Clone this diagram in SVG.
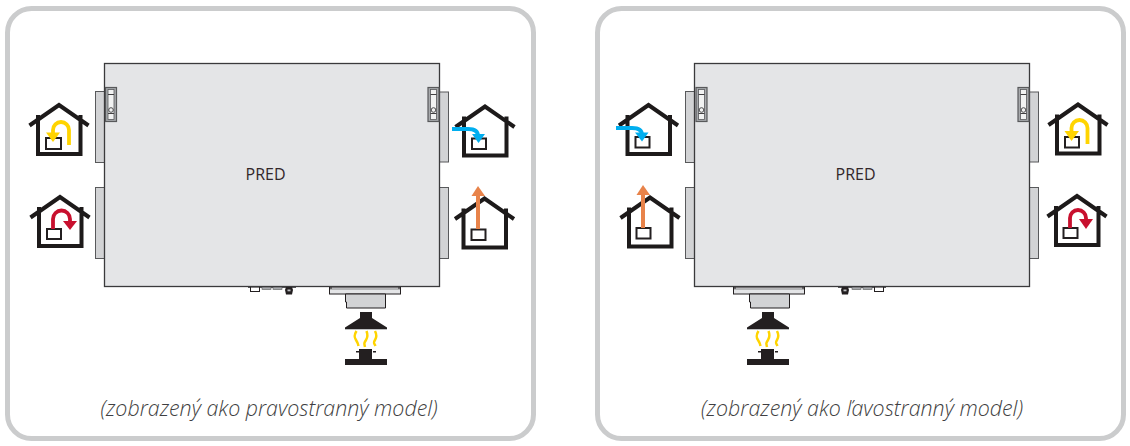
<svg xmlns="http://www.w3.org/2000/svg" xmlns:xlink="http://www.w3.org/1999/xlink" width="1130" height="446" viewBox="0 0 1130 446">
<style>
.panel{fill:#fff;stroke:#cbcccd;stroke-width:5}
.unit{fill:#e4e5e7;stroke:#3a3a3c;stroke-width:1.3}
.stub{fill:#d2d3d5;stroke:#58595b;stroke-width:1}
.hs{fill:none;stroke:#1d1a1a;stroke-width:4}
.bx{fill:#fff;stroke:#231f20;stroke-width:2}
.lab{font-family:"Open Sans","Liberation Sans",sans-serif;font-size:16px;fill:#33282a;text-anchor:middle}
.cap{font-family:"Open Sans","Liberation Sans",sans-serif;font-style:italic;font-weight:300;font-size:21.4px;fill:#3f3f42;text-anchor:middle}
.y{fill:none;stroke:#ffd400;stroke-width:3.8}
.yf{fill:#ffd400}
.r{fill:none;stroke:#c8102e;stroke-width:3.8}
.rf{fill:#c8102e}
.b{fill:none;stroke:#00aeef;stroke-width:3.8}
.bf{fill:#00aeef}
.o{fill:none;stroke:#e8834a;stroke-width:4}
.of{fill:#e8834a}
.fl{fill:none;stroke:#ffd400;stroke-width:2.5}
.dk{fill:#231f20}
.pl{fill:#d2d3d5;stroke:#231f20;stroke-width:1}
</style>
<defs>
<g id="house"><path class="hs" d="M-29.500 22.500L0 2L29.500 22.500M-21 12V51H21.500V12"/></g>
<g id="latch"><rect x="0" y="0" width="11" height="34" fill="#a7a9ac" stroke="#58595b" stroke-width="1.200"/><rect x="2.500" y="2" width="6" height="30" fill="#f1f2f2" stroke="#58595b" stroke-width=".8"/><path d="M2.500 7H8.500M2.500 26H8.500" stroke="#414042" stroke-width="1"/><circle cx="5.500" cy="22.500" r="2.300" fill="none" stroke="#3a3a3c" stroke-width=".9"/></g>
<g id="burner">
<path class="dk" d="M15 0H27V6L42 15.500V17H0V15.500L15 6Z"/>
<path d="M0 17.500H42" stroke="#bcbec0" stroke-width="1"/>
<path class="fl" d="M11.500 19C9 23 9 25 11 28S13 31 13.500 34M21.500 19C23 23 23 25 21 28S19 31 20 35M30 19C32 23 32 25 30 28S29 31 30.500 34"/>
<path class="dk" d="M14 37H27V47H42V53H0V47H14ZM11 39H14V40.500H11ZM28 39H31V40.500H28Z"/>
</g>
<g id="plate">
<rect class="pl" x="0" y="0" width="71" height="7" style="fill:#e4e5e7"/>
<path d="M0.500 2H70.500" stroke="#6d6e71" stroke-width=".8"/>
<path d="M1.500 0V2M69.500 0V2" stroke="#231f20"/>
<path class="pl" d="M16 7H56V21H17V15H16Z"/>
</g>
<g id="conn">
<path d="M-1 .5H47" stroke="#58595b" stroke-width="1"/>
<rect x="1.500" y="0" width="9" height="4.500" fill="#fff" stroke="#231f20" stroke-width="1"/>
<rect x="13" y="0" width="9" height="2.500" fill="#a7a9ac" stroke="#58595b" stroke-width=".6"/>
<rect x="24" y="0" width="9" height="2.500" fill="#a7a9ac" stroke="#58595b" stroke-width=".6"/>
<path class="dk" d="M37 0H43L44 3L43 7.500H37L36 3Z"/><rect x="38.500" y="2.500" width="3" height="1.800" fill="#bcbec0"/>
</g>
</defs>

<g id="panel-right-model">
<rect class="panel" x="7.500" y="8.500" width="526" height="430" rx="24"/>
</g>
<g id="panel-left-model">
<rect class="panel" x="597.500" y="8.500" width="526" height="430" rx="24"/>
</g>

<g id="unit-right-model">
<rect class="stub" x="95.500" y="91.500" width="9" height="71"/>
<rect class="stub" x="95.500" y="187.500" width="9" height="71"/>
<rect class="stub" x="439.500" y="92" width="9" height="70"/>
<rect class="stub" x="439.500" y="187.500" width="9" height="71"/>
<use xlink:href="#conn" href="#conn" x="249" y="287"/>
<use xlink:href="#plate" href="#plate" x="329.500" y="287"/>
<rect class="unit" x="104.500" y="63.500" width="335" height="223"/>
<use xlink:href="#latch" href="#latch" x="105.500" y="87.500"/>
<use xlink:href="#latch" href="#latch" x="428" y="87.500"/>
<text class="lab" x="265.500" y="179.500">PRED</text>
</g>
<g id="unit-left-model">
<rect class="stub" x="685.500" y="91.500" width="9" height="71"/>
<rect class="stub" x="685.500" y="187.500" width="9" height="71"/>
<rect class="stub" x="1029.500" y="92" width="9" height="70"/>
<rect class="stub" x="1029.500" y="187.500" width="9" height="71"/>
<use xlink:href="#conn" href="#conn" transform="translate(885 287) scale(-1 1)"/>
<use xlink:href="#plate" href="#plate" x="733.500" y="287"/>
<rect class="unit" x="694.500" y="63.500" width="335" height="223"/>
<use xlink:href="#latch" href="#latch" x="696" y="87.500"/>
<use xlink:href="#latch" href="#latch" x="1018" y="87.500"/>
<text class="lab" x="855.500" y="179.500">PRED</text>
</g>

<g id="burner-right-model"><use xlink:href="#burner" href="#burner" x="345" y="312"/></g>
<g id="burner-left-model"><use xlink:href="#burner" href="#burner" x="747" y="312"/></g>

<g id="house-r1">
<use xlink:href="#house" href="#house" x="59" y="103"/>
<rect class="bx" x="46" y="138" width="15" height="11"/>
<path class="y" d="M69 145V130A8 8 0 0 0 53 130V134"/>
<path class="yf" d="M46 132.500H60L53 142Z"/>
</g>
<g id="house-r2">
<use xlink:href="#house" href="#house" x="60" y="195"/>
<rect class="bx" x="47" y="229" width="14" height="10"/>
<path class="r" d="M53 229V219A8.500 8.500 0 0 1 70 219V222"/>
<path class="rf" d="M63 221H77L70 230Z"/>
</g>
<g id="house-r3">
<use xlink:href="#house" href="#house" x="485" y="104.500"/>
<rect class="bx" x="472" y="138.500" width="14" height="10.500"/>
<path class="b" d="M452 129H468C474 129 478 131 478 136"/>
<path class="bf" d="M472 134H485L478.500 143Z"/>
</g>
<g id="house-r4">
<use xlink:href="#house" href="#house" x="484.500" y="196.500"/>
<rect class="bx" x="471.500" y="229.500" width="14" height="10.500"/>
<path class="o" d="M478 229V195"/>
<path class="of" d="M471.500 196H485L478 186Z"/>
</g>

<g id="house-l1">
<use xlink:href="#house" href="#house" x="648.500" y="103"/>
<rect class="bx" x="635.500" y="137" width="14" height="10.500"/>
<path class="b" d="M616 128H632C638 128 642 130 642 135"/>
<path class="bf" d="M635 132.500H648.500L642 141.500Z"/>
</g>
<g id="house-l2">
<use xlink:href="#house" href="#house" x="650" y="195.500"/>
<rect class="bx" x="636.500" y="228" width="14" height="10.500"/>
<path class="o" d="M643 228V194"/>
<path class="of" d="M636.500 195H650L643 185Z"/>
</g>
<g id="house-l3">
<use xlink:href="#house" href="#house" x="1078" y="102.500"/>
<rect class="bx" x="1065" y="137" width="14" height="10.500"/>
<path class="y" d="M1087.500 144V128A8 8 0 0 0 1071.500 128V133"/>
<path class="yf" d="M1064.500 131H1079L1071.500 141Z"/>
</g>
<g id="house-l4">
<use xlink:href="#house" href="#house" x="1077" y="194"/>
<rect class="bx" x="1063.500" y="228" width="14" height="10"/>
<path class="r" d="M1070 228V218A8 8 0 0 1 1086 218V221"/>
<path class="rf" d="M1079 219H1093L1086 229Z"/>
</g>

<text class="cap" x="269" y="416">(zobrazený ako pravostranný model)</text>
<text class="cap" x="862" y="416">(zobrazený ako ľavostranný model)</text>
</svg>
